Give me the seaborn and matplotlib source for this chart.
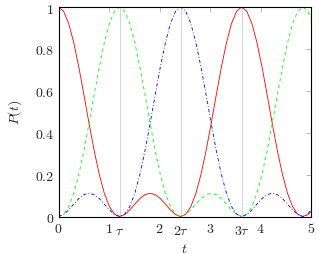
import numpy as np
import pandas as pd
import seaborn as sns
import matplotlib
matplotlib.use('Agg')
import matplotlib.pyplot as plt

# time samples (steps of tau/12)
t = [0.0, 0.1008, 0.2015, 0.3023, 0.4031, 0.5038, 0.6046, 0.7054, 0.8061, 0.9069,
     1.0077, 1.1084, 1.2092, 1.3100, 1.4107, 1.5115, 1.6123, 1.7130, 1.8138, 1.9146,
     2.0153, 2.1161, 2.2169, 2.3176, 2.4184, 2.5192, 2.6199, 2.7207, 2.8215, 2.9222,
     3.0230, 3.1238, 3.2246, 3.3253, 3.4261, 3.5269, 3.6276, 3.7284, 3.8292, 3.9299,
     4.0307, 4.1315, 4.2322, 4.3330, 4.4338, 4.5345, 4.6353, 4.7361, 4.8368, 4.9376,
     5.0384]

# P(t) for the three sites
p_red = [1.0, 0.97985, 0.92121, 0.82934, 0.71239, 0.58043, 0.44444, 0.31511, 0.20169, 0.11111,
         0.04734, 0.01109, 0.0, 0.00906, 0.03146, 0.05954, 0.08592, 0.10446, 0.11111, 0.10446,
         0.08592, 0.05954, 0.03146, 0.00906, 0.0, 0.01109, 0.04734, 0.11111, 0.20169, 0.31511,
         0.44444, 0.58043, 0.71239, 0.82934, 0.92121, 0.97985, 1.0, 0.97985, 0.92121, 0.82934,
         0.71239, 0.58043, 0.44444, 0.31511, 0.20169, 0.11111, 0.04734, 0.01109, 0.0, 0.00906,
         0.03146]
p_green = [0.0, 0.01109, 0.04734, 0.11111, 0.20169, 0.31511, 0.44444, 0.58043, 0.71239, 0.82934,
           0.92121, 0.97985, 1.0, 0.97985, 0.92121, 0.82934, 0.71239, 0.58043, 0.44444, 0.31511,
           0.20169, 0.11111, 0.04734, 0.01109, 0.0, 0.00906, 0.03146, 0.05954, 0.08592, 0.10446,
           0.11111, 0.10446, 0.08592, 0.05954, 0.03146, 0.00906, 0.0, 0.01109, 0.04734, 0.11111,
           0.20169, 0.31511, 0.44444, 0.58043, 0.71239, 0.82934, 0.92121, 0.97985, 1.0, 0.97985,
           0.92121]
p_blue = [0.0, 0.00906, 0.03146, 0.05954, 0.08592, 0.10446, 0.11111, 0.10446, 0.08592, 0.05954,
          0.03146, 0.00906, 0.0, 0.01109, 0.04734, 0.11111, 0.20169, 0.31511, 0.44444, 0.58043,
          0.71239, 0.82934, 0.92121, 0.97985, 1.0, 0.97985, 0.92121, 0.82934, 0.71239, 0.58043,
          0.44444, 0.31511, 0.20169, 0.11111, 0.04734, 0.01109, 0.0, 0.00906, 0.03146, 0.05954,
          0.08592, 0.10446, 0.11111, 0.10446, 0.08592, 0.05954, 0.03146, 0.00906, 0.0, 0.01109,
          0.04734]

x_ticks = [0, 1, 2, 3, 4, 5]
tau_ticks = [1.2092, 2.4184, 3.6276]
tau_labels = [r'$\tau$', r'$2\tau$', r'$3\tau$']
y_ticks = [0, 0.2, 0.4, 0.6, 0.8, 1]

sns.set_style('white')
plt.rcParams['mathtext.fontset'] = 'cm'
plt.rcParams['font.family'] = ['DejaVu Serif']

df = pd.DataFrame({'t': t, 'red': p_red, 'green': p_green, 'blue': p_blue})

fig = plt.figure(figsize=(3.19, 2.55), dpi=100)
ax = fig.add_axes([0.1834, 0.147, 0.7916, 0.8216])

sns.lineplot(data=df, x='t', y='red', color='#ff0000', lw=0.6, ax=ax)
sns.lineplot(data=df, x='t', y='green', color='#00ff00', lw=0.6, ax=ax)
sns.lineplot(data=df, x='t', y='blue', color='#0000ff', lw=0.6, ax=ax)
ax.lines[1].set_dashes([4, 4])
ax.lines[2].set_dashes([4, 2.5, 1, 2.5])

ax.set_xlim(0, 5)
ax.set_ylim(0, 1)

fs = 10
ax.set_xticks(x_ticks, labels=[f'${v}$' for v in x_ticks])
ax.set_xticks(tau_ticks, labels=tau_labels, minor=True)
ax.set_yticks(y_ticks, labels=[f'${v:g}$' for v in y_ticks])
ax.grid(True, which='minor', axis='x', color='#d4d4d4', lw=0.7)
ax.set_axisbelow(True)
ax.tick_params(which='major', direction='in', top=True, right=True, length=3.5,
               width=0.6, color='#b0b0b0', labelsize=fs, pad=3)
ax.tick_params(which='minor', length=0, labelsize=fs, pad=4.5)
ax.tick_params(axis='y', pad=3)

for s in ax.spines.values():
    s.set_color('black')
    s.set_linewidth(0.8)

ax.set_xlabel('$t$', fontsize=fs, labelpad=3)
ax.set_ylabel('$P(t)$', fontsize=fs, labelpad=8)

fig.savefig('out.png', dpi=100)
